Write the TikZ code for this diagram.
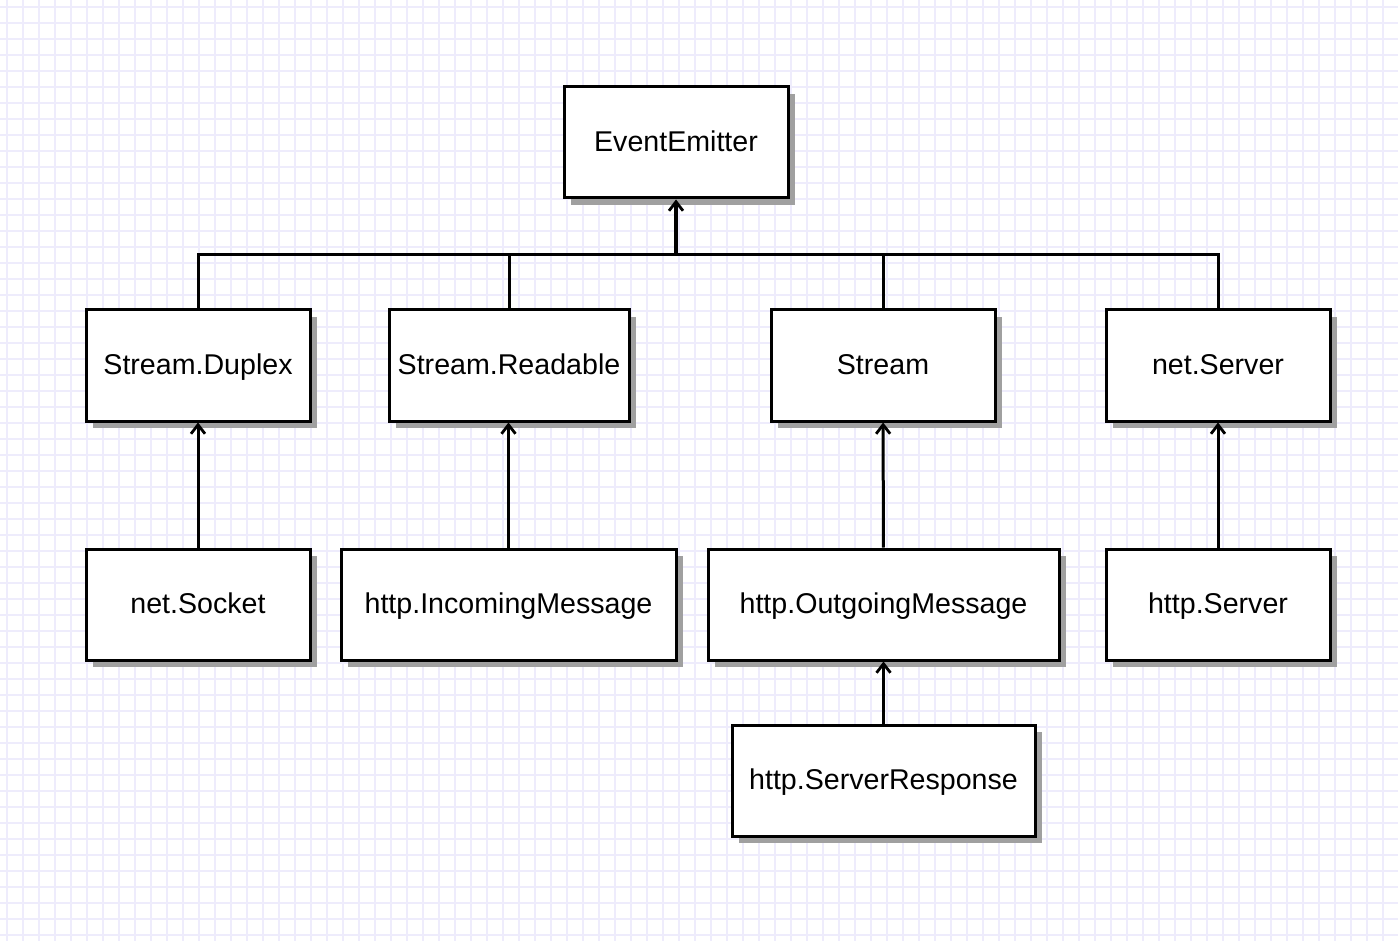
\documentclass[tikz,border=0pt]{standalone}
\usepackage{fontspec}
\setmainfont{Liberation Sans}
\usepackage{tikz}
\usetikzlibrary{arrows.meta,positioning,shadows}
\definecolor{gridline}{RGB}{238,236,252}
\definecolor{shadowgray}{RGB}{160,160,160}

\begin{document}
\begin{tikzpicture}[x=0.5pt,y=-0.5pt,
  every node/.style={rectangle,draw,line width=1.5pt,fill=white,
    minimum height=55.5pt,inner xsep=2pt,font=\fontsize{14.3}{17}\selectfont,
    text height=0.88em,text depth=0pt,
    drop shadow={shadow xshift=3.5pt,shadow yshift=-3.5pt,fill=shadowgray,opacity=1}},
  link/.style={line width=1.5pt},
  inherit/.style={line width=1.5pt,-{Straight Barb[length=4.5pt,width=7pt,line width=1.4pt]}}]

  % Background grid
  \useasboundingbox (0,0) rectangle (1398,941);
  \fill[white] (0,0) rectangle (1398,941);
  \foreach \g in {7,23,...,1398} {
    \draw[gridline,line width=0.7pt] (\g,0) -- (\g,941);
  }
  \foreach \g in {7,23,...,941} {
    \draw[gridline,line width=0.7pt] (0,\g) -- (1398,\g);
  }

  % Root
  \node[minimum width=112pt] (emitter) at (676,142.5) {EventEmitter};

  % Second row
  \node[minimum width=112pt] (duplex) at (198,365.5) {Stream.Duplex};
  \node[minimum width=120pt] (readable) at (509,365.5) {Stream.Readable};
  \node[minimum width=112pt] (stream) at (883,365.5) {Stream};
  \node[minimum width=112pt] (netserver) at (1218,365.5) {net.Server};

  % Third row
  \node[minimum width=112pt] (socket) at (198,604.5) {net.Socket};
  \node[minimum width=167.5pt] (incoming) at (508.5,604.5) {http.IncomingMessage};
  \node[minimum width=175.5pt] (outgoing) at (883.5,604.5) {http.OutgoingMessage};
  \node[minimum width=112pt] (httpserver) at (1218,604.5) {http.Server};

  % Fourth row
  \node[minimum width=151.5pt] (response) at (883.5,780.5) {http.ServerResponse};

  % Bus to the root
  \coordinate (bus) at (676,255);
  \foreach \n in {duplex,readable,stream,netserver} {
    \draw[link] (\n.north) |- (bus);
  }
  \draw[inherit,line width=2.2pt] (bus) -- (emitter.south);

  % Inheritance arrows
  \draw[inherit] (socket) -- (duplex);
  \draw[inherit] (incoming) -- (incoming |- readable.south);
  \draw[inherit] (outgoing) -- (stream);
  \draw[inherit] (httpserver) -- (netserver);
  \draw[inherit] (response) -- (outgoing);
\end{tikzpicture}
\end{document}
